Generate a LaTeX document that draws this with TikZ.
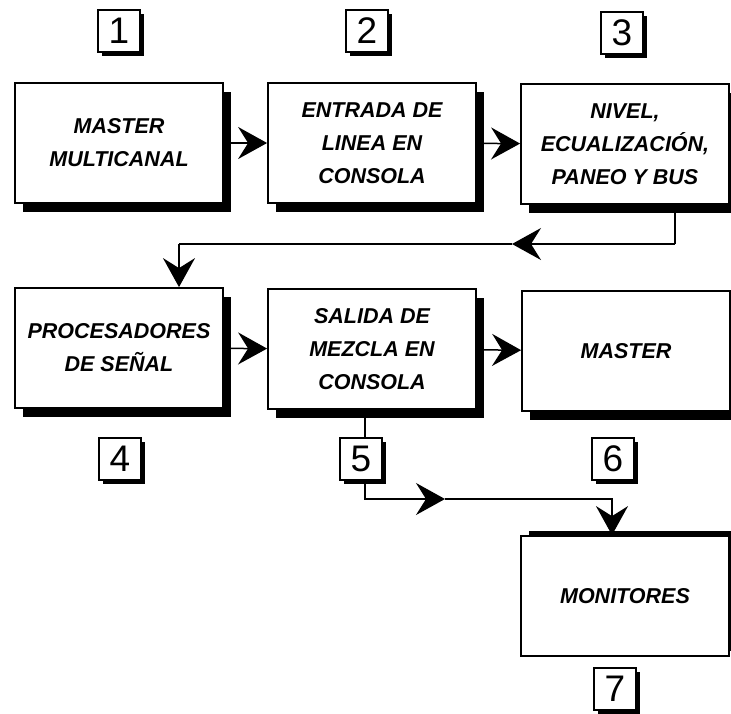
\documentclass[tikz,border=0pt]{standalone}
\usepackage{fontspec}
\setmainfont{Liberation Sans}
\usetikzlibrary{arrows.meta,positioning,shadows}

\begin{document}
\begin{tikzpicture}[x=1pt,y=-1pt,
  bloque/.style={draw=black,line width=1.8pt,fill=white,minimum width=208,minimum height=120,
    align=center,font=\bfseries\itshape\fontsize{21.5}{33}\selectfont,
    general shadow={fill=black,shadow xshift=8pt,shadow yshift=#1}},
  bloque/.default=-9pt,
  etiqueta/.style={draw=black,line width=1.3pt,fill=white,minimum size=42,inner sep=0pt,
    font=\fontsize{37}{37}\selectfont,
    general shadow={fill=black,shadow xshift=3.5pt,shadow yshift=-3.5pt}},
  flecha/.style={line width=1.5pt,-{Stealth[length=29pt,width=32pt,inset=10pt]}}]

\useasboundingbox (0,0) rectangle (731,713);

\node[bloque]    (n1) at (119,143)   {MASTER\\MULTICANAL};
\node[bloque]    (n2) at (372,143)   {ENTRADA DE\\LINEA EN\\CONSOLA};
\node[bloque]    (n3) at (625,144)   {NIVEL,\\ECUALIZACIÓN,\\PANEO Y BUS};
\node[bloque]    (n4) at (119,348)   {PROCESADORES\\DE SEÑAL};
\node[bloque]    (n5) at (372,349)   {SALIDA DE\\MEZCLA EN\\CONSOLA};
\node[bloque]    (n6) at (626,351)   {MASTER};
\node[bloque=5pt] (n7) at (625,596)  {MONITORES};

\node[etiqueta]  (l1) at (119,31)    {1};
\node[etiqueta]  (l2) at (367,31)    {2};
\node[etiqueta]  (l3) at (622,33)    {3};
\node[etiqueta]  (l4) at (120,459)   {4};
\node[etiqueta]  (l5) at (361,459)   {5};
\node[etiqueta]  (l6) at (613,459)   {6};
\node[etiqueta]  (l7) at (615,689)   {7};

\coordinate (d3) at (675,244);
\coordinate (a3) at (512,244);
\coordinate (d4) at (179,244);
\coordinate (b5) at (365,499);
\coordinate (a5) at (445,499);
\coordinate (d7) at (612,499);

\foreach \f/\t in {% de/a
	 n1/n2,
	 n2/n3,
	 n4/n5,
	 n5/n6}
	\draw[flecha] (\f) -- (\t);

% retorno de 3 a 4
\draw[line width=1.5pt] (n3.south -| d3) -- (d3);
\draw[flecha] (d3) -- (a3);
\draw[line width=1.5pt] (a3) -- (d4);
\draw[flecha] (d4) -- (d4 |- n4.north);

% salida 5 a monitores
\draw[line width=1.5pt] (n5.south -| b5) -- (l5.north -| b5);
\draw[flecha] (l5.south -| b5) -- (b5) -- (a5);
\draw[flecha] (a5) -- (d7) -- (d7 |- n7.north);

\end{tikzpicture}
\end{document}
